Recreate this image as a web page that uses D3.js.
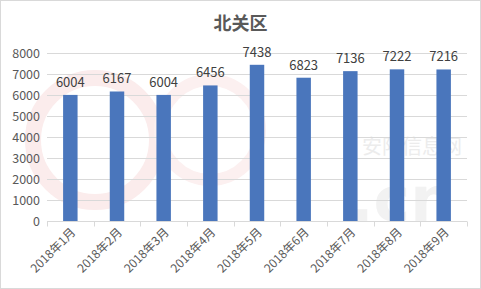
<!DOCTYPE html>
<html>
<head>
<meta charset="utf-8">
<script src="https://cdn.jsdelivr.net/npm/d3@7/dist/d3.min.js"></script>
<style>
  body { margin: 0; background: #fff; }
  svg { display: block; font-family: "Microsoft YaHei", "Noto Sans CJK SC", sans-serif; }
</style>
</head>
<body>
<svg id="chart" width="481" height="289"></svg>
<script>
const months = ['2018年1月', '2018年2月', '2018年3月', '2018年4月', '2018年5月',
  '2018年6月', '2018年7月', '2018年8月', '2018年9月']
const values = [6004, 6167, 6004, 6456, 7438, 6823, 7136, 7222, 7216]
const yTicks = [0, 1000, 2000, 3000, 4000, 5000, 6000, 7000, 8000]

const svg = d3.select('#chart')
const W = 481
const H = 289
const margin = {top: 53, right: 14, bottom: 68, left: 47}

// outer frame
svg.append('rect')
  .attr('x', 0.5).attr('y', 0.5)
  .attr('width', W - 1).attr('height', H - 1)
  .attr('fill', '#fff')
  .attr('stroke', '#d9d9d9')

// faint watermark
const wm = svg.append('g')
wm.append('circle').attr('cx', 95).attr('cy', 140).attr('r', 62)
  .attr('fill', 'none').attr('stroke', '#fbecec').attr('stroke-width', 16)
wm.append('circle').attr('cx', 210).attr('cy', 130).attr('r', 50)
  .attr('fill', 'none').attr('stroke', '#fcf0f0').attr('stroke-width', 12)
wm.append('text').attr('x', 362).attr('y', 154)
  .attr('fill', '#ececec').attr('font-size', 20).text('安阳信息网')
wm.append('text').attr('x', 350).attr('y', 221)
  .attr('fill', '#f2f2f2').attr('font-size', 62).attr('font-weight', 'bold')
  .attr('font-family', 'DejaVu Sans').text('.cn')

const x = d3.scaleBand()
  .domain(months)
  .range([margin.left, W - margin.right])
  .paddingInner(0.69)
  .paddingOuter(0.345)

const xb = d3.scaleBand()
  .domain(months)
  .range([margin.left, W - margin.right])

const y = d3.scaleLinear()
  .domain([0, 8000])
  .range([H - margin.bottom, margin.top])

// gridlines
svg.append('g')
  .selectAll('line')
  .data(yTicks)
  .enter().append('line')
  .attr('x1', margin.left).attr('x2', W - margin.right)
  .attr('y1', d => Math.round(y(d)) + 0.5).attr('y2', d => Math.round(y(d)) + 0.5)
  .attr('stroke', '#d9d9d9')

// y labels
svg.append('g')
  .selectAll('text')
  .data(yTicks)
  .enter().append('text')
  .attr('x', 40)
  .attr('y', d => y(d) + 4.5)
  .attr('text-anchor', 'end')
  .attr('fill', '#595959')
  .attr('font-size', 12.5)
  .text(d => d)

// x axis ticks
const xAxis = svg.append('g')
  .attr('transform', 'translate(0,' + (Math.round(y(0)) + 0.5) + ')')
xAxis.selectAll('line.tk')
  .data(months.concat(['end']))
  .enter().append('line')
  .attr('x1', (d, i) => Math.round(margin.left + i * xb.bandwidth()) + 0.5)
  .attr('x2', (d, i) => Math.round(margin.left + i * xb.bandwidth()) + 0.5)
  .attr('y1', 0).attr('y2', 5)
  .attr('stroke', '#d9d9d9')

// bars
svg.append('g')
  .selectAll('rect')
  .data(values)
  .enter().append('rect')
  .attr('x', (d, i) => x(months[i]))
  .attr('y', d => y(d))
  .attr('width', x.bandwidth())
  .attr('height', d => y(0) - y(d))
  .attr('fill', '#4a76bc')

// value labels
svg.append('g')
  .selectAll('text')
  .data(values)
  .enter().append('text')
  .attr('x', (d, i) => x(months[i]) + x.bandwidth() / 2)
  .attr('y', d => y(d) - 8)
  .attr('text-anchor', 'middle')
  .attr('fill', '#404040')
  .attr('font-size', 13)
  .text(d => d)

// category labels
svg.append('g')
  .selectAll('text')
  .data(months)
  .enter().append('text')
  .attr('transform', d => 'translate(' + (xb(d) + xb.bandwidth() / 2 + 6) + ',' + (y(0) + 12) + ') rotate(-45)')
  .attr('text-anchor', 'end')
  .attr('fill', '#595959')
  .attr('font-size', 12)
  .text(d => d)

// title
svg.append('text')
  .attr('x', W / 2)
  .attr('y', 30)
  .attr('text-anchor', 'middle')
  .attr('fill', '#595959')
  .attr('font-size', 18)
  .attr('font-weight', 'bold')
  .text('北关区')
</script>
</body>
</html>
